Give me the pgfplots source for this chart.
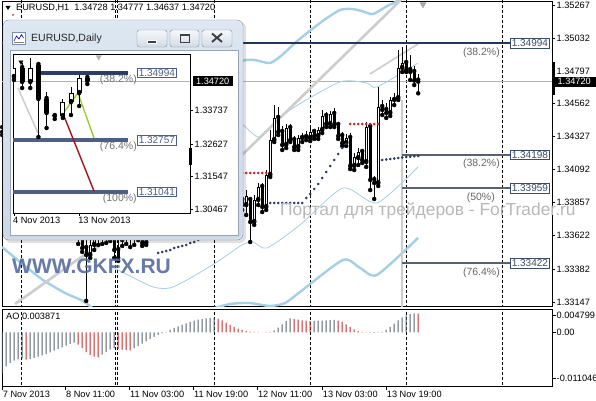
\documentclass[border=0pt]{standalone}
\usepackage{fontspec}
\setmainfont{Liberation Sans}
\usepackage{pgfplots}
\usepackage{pgfplotstable}
\pgfplotsset{compat=1.18}

\definecolor{bbblue}{HTML}{A3D0E6}
\definecolor{sarblue}{HTML}{23395F}
\definecolor{sarred}{HTML}{D02020}
\definecolor{fibnavy}{HTML}{22375E}
\definecolor{fibgray}{HTML}{56626F}
\definecolor{fibtext}{HTML}{3A4C6A}
\definecolor{pcttext}{HTML}{666666}
\definecolor{aogray}{HTML}{56606C}
\definecolor{aored}{HTML}{C42828}
\definecolor{trendgray}{HTML}{CDCDCD}
\definecolor{wintop}{HTML}{DDE7F2}
\definecolor{winbot}{HTML}{CBD8E6}
\definecolor{winborder}{HTML}{7C8DA3}
\definecolor{btntop}{HTML}{F6F8FB}
\definecolor{btnbot}{HTML}{D3DBE5}
\definecolor{dfib}{HTML}{4E5F86}
\definecolor{dfibtop}{HTML}{2A3D66}
\definecolor{gkfx}{HTML}{566BA0}
\definecolor{fibgreen}{HTML}{9ACD32}
\definecolor{fibred}{HTML}{A31414}

\newcommand{\fs}[1]{\fontsize{#1}{#1}\selectfont}

% H1 candles: bar index (7 Nov 19:00 = 0), open, high, low, close
\pgfplotstableread{
i o h l c
0 1.34389 1.34418 1.34339 1.34361
1 1.34361 1.34403 1.34332 1.34396
2 1.34396 1.34432 1.34368 1.34411
3 1.34411 1.34439 1.34375 1.34389
4 1.34389 1.34411 1.34353 1.34403
5 1.34403 1.34425 1.34368 1.34382
6 1.34382 1.34411 1.34361 1.34396
7 1.34396 1.34418 1.34346 1.34361
8 1.34361 1.34396 1.34339 1.34375
9 1.34375 1.34403 1.34332 1.34346
10 1.34346 1.34389 1.34318 1.34368
11 1.34368 1.34396 1.34325 1.34339
12 1.34339 1.34375 1.34303 1.34325
13 1.34325 1.34368 1.34296 1.34353
14 1.34353 1.34382 1.34311 1.34332
15 1.34332 1.34375 1.34289 1.34303
16 1.34303 1.34346 1.34275 1.34325
17 1.34325 1.34361 1.34261 1.34282
18 1.34282 1.34332 1.34246 1.34311
19 1.34311 1.34446 1.33561 1.33875
20 1.33875 1.33911 1.33504 1.33532
21 1.33532 1.33604 1.33154 1.33482
22 1.33482 1.33589 1.33461 1.33554
23 1.33554 1.33647 1.33518 1.33604
24 1.33604 1.33675 1.33554 1.33647
25 1.33647 1.33704 1.33561 1.33618
26 1.33618 1.33689 1.33568 1.33661
27 1.33661 1.33718 1.33582 1.33689
28 1.33689 1.33718 1.33461 1.33518
29 1.33518 1.33589 1.33440 1.33461
30 1.33589 1.33661 1.33547 1.33632
31 1.33632 1.33675 1.33561 1.33661
32 1.33661 1.33704 1.33539 1.33618
33 1.33618 1.33689 1.33554 1.33668
34 1.33668 1.33718 1.33589 1.33689
35 1.33675 1.33718 1.33547 1.33568
36 1.33568 1.33661 1.33554 1.33625
37 1.33625 1.33689 1.33604 1.33661
38 1.33661 1.33718 1.33632 1.33697
39 1.33697 1.33761 1.33668 1.33732
40 1.33732 1.33775 1.33675 1.33711
41 1.33711 1.33818 1.33689 1.33789
42 1.33789 1.33861 1.33761 1.33832
43 1.33832 1.33889 1.33789 1.33804
44 1.33804 1.33904 1.33775 1.33875
45 1.33875 1.33946 1.33846 1.33918
46 1.33918 1.33989 1.33889 1.33961
47 1.33961 1.34032 1.33918 1.33946
48 1.33946 1.34046 1.33925 1.34018
49 1.34018 1.34068 1.33975 1.33989
50 1.33989 1.34061 1.33946 1.34032
51 1.34032 1.34046 1.33932 1.33961
52 1.33961 1.34004 1.33904 1.33982
53 1.33982 1.34018 1.33882 1.33911
54 1.33911 1.33961 1.33839 1.33932
55 1.33932 1.33975 1.33818 1.33846
56 1.33846 1.33904 1.33789 1.33818
57 1.33818 1.33889 1.33768 1.33861
58 1.33861 1.33896 1.33775 1.33804
59 1.33804 1.33904 1.33782 1.33875
60 1.33875 1.33911 1.33804 1.33839
61 1.33839 1.33946 1.33768 1.33904
62 1.33875 1.33889 1.33575 1.33718
63 1.33718 1.33911 1.33697 1.33875
64 1.33875 1.33996 1.33839 1.33968
65 1.33968 1.33996 1.33789 1.33825
66 1.33825 1.34089 1.33804 1.34054
67 1.34054 1.34375 1.34039 1.34303
68 1.34303 1.34553 1.34289 1.34461
69 1.34461 1.34539 1.34339 1.34361
70 1.34361 1.34403 1.34232 1.34268
71 1.34268 1.34418 1.34246 1.34389
72 1.34389 1.34418 1.34289 1.34303
73 1.34303 1.34332 1.34232 1.34253
74 1.34253 1.34339 1.34232 1.34318
75 1.34318 1.34353 1.34289 1.34325
76 1.34325 1.34368 1.34303 1.34339
77 1.34318 1.34389 1.34296 1.34361
78 1.34361 1.34382 1.34311 1.34332
79 1.34332 1.34396 1.34311 1.34375
80 1.34375 1.34518 1.34353 1.34475
81 1.34475 1.34503 1.34396 1.34418
82 1.34418 1.34510 1.34396 1.34489
83 1.34489 1.34532 1.34396 1.34411
84 1.34411 1.34432 1.34311 1.34332
85 1.34332 1.34361 1.34261 1.34282
86 1.34282 1.34346 1.34261 1.34318
87 1.34318 1.34353 1.34096 1.34118
88 1.34118 1.34211 1.34089 1.34182
89 1.34175 1.34246 1.34125 1.34218
90 1.34218 1.34232 1.34139 1.34161
91 1.34146 1.34432 1.34111 1.34396
92 1.34396 1.34411 1.33946 1.34018
93 1.34018 1.34046 1.33882 1.33996
94 1.33996 1.34682 1.33975 1.34539
95 1.34539 1.34589 1.34482 1.34518
96 1.34518 1.34568 1.34461 1.34496
97 1.34496 1.34610 1.34475 1.34589
98 1.34589 1.34639 1.34553 1.34603
99 1.34603 1.34946 1.34589 1.34818
100 1.34818 1.34967 1.34789 1.34853
101 1.34853 1.34960 1.34789 1.34803
102 1.34803 1.34910 1.34732 1.34789
103 1.34789 1.34832 1.34696 1.34728
104 1.34728 1.34777 1.34637 1.34720
}\hone

% Awesome Oscillator, rising bars
\pgfplotstableread{
i v
0 -0.00837
1 -0.00700
2 -0.00631
3 -0.00583
4 -0.00556
5 -0.00535
7 -0.00549
8 -0.00528
9 -0.00501
10 -0.00473
11 -0.00446
12 -0.00412
13 -0.00377
14 -0.00343
15 -0.00309
16 -0.00274
17 -0.00240
18 -0.00213
25 -0.00460
26 -0.00405
27 -0.00357
28 -0.00329
33 -0.00329
34 -0.00281
35 -0.00233
36 -0.00185
37 -0.00137
38 -0.00096
39 -0.00055
40 -0.00021
41 0.00007
42 0.00048
43 0.00089
44 0.00123
45 0.00158
46 0.00185
47 0.00213
48 0.00240
49 0.00261
50 0.00274
51 0.00288
52 0.00295
53 0.00302
67 0.00007
68 0.00041
69 0.00096
70 0.00165
71 0.00233
72 0.00288
78 0.00237
79 0.00240
80 0.00243
81 0.00247
82 0.00250
83 0.00254
94 -0.00007
95 0.00007
96 0.00048
97 0.00110
98 0.00178
99 0.00247
100 0.00309
101 0.00350
102 0.00377
103 0.00391
}\aog

% Awesome Oscillator, falling bars
\pgfplotstableread{
i v
6 -0.00562
19 -0.00254
20 -0.00322
21 -0.00405
22 -0.00466
23 -0.00501
24 -0.00514
29 -0.00343
30 -0.00357
31 -0.00364
32 -0.00370
54 0.00281
55 0.00247
56 0.00199
57 0.00151
58 0.00110
59 0.00075
60 0.00048
61 0.00027
62 0.00014
63 0.00007
64 0.00003
65 -0.00003
66 -0.00005
73 0.00274
74 0.00261
75 0.00247
76 0.00240
77 0.00233
84 0.00240
85 0.00213
86 0.00165
87 0.00110
88 0.00062
89 0.00027
90 0.00010
91 0.00003
92 -0.00005
93 -0.00010
104 0.003871
}\aor

% parabolic SAR below price
\pgfplotstableread{
i p
39 1.33497
40 1.33504
41 1.33511
42 1.33518
43 1.33532
44 1.33539
45 1.33547
46 1.33554
47 1.33568
48 1.33575
49 1.33589
50 1.33618
51 1.33654
52 1.33689
53 1.33725
54 1.33761
55 1.33789
67 1.33854
68 1.33854
69 1.33854
70 1.33854
71 1.33854
72 1.33854
73 1.33854
74 1.33854
75 1.33854
76 1.33889
77 1.33918
78 1.33954
79 1.33989
80 1.34032
81 1.34075
82 1.34118
83 1.34161
84 1.34203
85 1.34246
86 1.34275
95 1.34161
96 1.34164
97 1.34168
98 1.34171
99 1.34175
100 1.34178
101 1.34182
102 1.34184
103 1.34187
104 1.34189
}\sarb

% parabolic SAR above price
\pgfplotstableread{
i p
56 1.34068
57 1.34068
58 1.34068
59 1.34068
60 1.34068
61 1.34068
62 1.34068
63 1.34068
64 1.34068
65 1.34068
66 1.34068
87 1.34418
88 1.34418
89 1.34418
90 1.34418
91 1.34418
92 1.34418
93 1.34418
94 1.34418
}\sarr

% daily candles in the inset window (4 Nov = 0)
\pgfplotstableread{
k o h l c
0 1.34853 1.35252 1.34753 1.35152
1 1.35152 1.35318 1.34487 1.34687
2 1.34687 1.35484 1.34487 1.35152
3 1.35252 1.35318 1.32860 1.34122
4 1.34122 1.34355 1.33159 1.33657
5 1.33557 1.33657 1.33458 1.33557
6 1.33557 1.34122 1.33491 1.34022
7 1.34022 1.34521 1.33590 1.34321
8 1.34321 1.34919 1.33889 1.34820
9 1.34820 1.34919 1.34620 1.34720
}\daily

\pgfplotsset{
  errline/.style 2 args={only marks, mark=none, error bars/.cd, y dir=plus, y explicit,
    error mark=none, error bar style={line width=#1, color=#2, solid}},
  sepline/.style={black, line width=0.7pt, dash pattern=on 3pt off 2pt},
}
\tikzset{
  fibbox/.style={draw=fibtext, fill=white, text=fibtext, font=\fs{10}, inner xsep=1.5pt,
    inner ysep=1.2pt, line width=0.6pt},
  pct/.style={text=pcttext, font=\fs{10.5}, inner sep=0pt},
}

\begin{document}
\begin{tikzpicture}[x=1pt,y=1pt]
\useasboundingbox (0,0) rectangle (596,400);
\fill[white] (0,0) rectangle (596,400);

% ---------------- main H1 panel ----------------
\begin{axis}[
  at={(2pt,94pt)}, anchor=south west,
  width=550pt, height=305pt, scale only axis,
  xmin=-0.05, xmax=137.45, ymin=1.33118, ymax=1.35296,
  axis line style={black, line width=0.8pt},
  xtick=\empty,
  ytick={1.35267,1.35032,1.34797,1.34562,1.34327,1.34092,1.33857,1.33622,1.33382,1.33147},
  yticklabels={1.35267,1.35032,1.34797,1.34562,1.34327,1.34092,1.33857,1.33622,1.33382,1.33147},
  ytick pos=right, yticklabel pos=right,
  tick align=outside, major tick length=3pt,
  tick style={black, line width=0.6pt},
  yticklabel style={font=\fs{9.2}, anchor=west, inner sep=0pt, xshift=1.5pt},
  scaled y ticks=false,
  clip mode=individual,
]
\pgfplotsinvokeforeach{4.875,28.2,28.8,52.95,77.1,101.1,125.1}{
  \addplot [sepline] coordinates {(#1,1.33) (#1,1.36)};
}
\addplot [black!30, line width=0.6pt] coordinates {(-1,1.34720) (140,1.34720)};

% Bollinger bands
\addplot [bbblue, line width=2.4pt, smooth, tension=0.4] coordinates {
(49.45,1.34660) (59.45,1.34860) (62.95,1.34875) (66.95,1.34853) (69.95,1.34910)
(73.45,1.35003) (76.2,1.35067) (80.45,1.35160) (84.45,1.35232) (87.45,1.35239)
(89.95,1.35224) (92.7,1.35203) (96.2,1.35260) (98.7,1.35296) (103.95,1.35432)};
\addplot [bbblue, line width=0.8pt, smooth, tension=0.4] coordinates {
(49.45,1.34518) (59.45,1.34425) (64.45,1.34325) (71.95,1.34518) (84.45,1.34718)
(91.2,1.34710) (93.7,1.34682) (103.95,1.34853)};
\addplot [bbblue, line width=0.8pt, smooth, tension=0.4] coordinates {
(26.95,1.33404) (29.45,1.33368) (37.7,1.33254) (41.95,1.33247) (46.2,1.33304)
(53.7,1.33432) (59.95,1.33554) (62.7,1.33575) (66.2,1.33532) (74.45,1.33697)
(85.2,1.33961) (93.7,1.33854) (103.95,1.34111)};
\addplot [bbblue, line width=2.4pt, smooth, tension=0.4] coordinates {
(-0.05,1.33539) (4.45,1.33432) (10.2,1.33304) (15.7,1.33211) (20.2,1.33154)
(24.45,1.33075) (36.95,1.32983) (49.45,1.33075) (56.95,1.33132) (61.95,1.33139)
(66.95,1.33118) (70.7,1.33139) (74.45,1.33218) (85.2,1.33447) (89.45,1.33390)
(93.7,1.33340) (103.95,1.33604)};

% trend lines
\addplot [trendgray, line width=2.6pt] coordinates {(3.2,1.33132) (18.7,1.33447) (59.45,1.34182) (100.7,1.35332)};
\addplot [trendgray, line width=1.6pt] coordinates {(91.95,1.34775) (103.95,1.34989)};

% Fibonacci levels
\addplot [trendgray, line width=2.6pt] coordinates {(99.9,1.34589) (99.9,1.3300)};
\addplot [fibnavy, line width=2pt] coordinates {(-1,1.34994) (126.95,1.34994)};
\addplot [fibgray, line width=2pt] coordinates {(99.9,1.34198) (126.95,1.34198)};
\addplot [fibgray, line width=2pt] coordinates {(99.9,1.33959) (126.95,1.33959)};
\addplot [fibgray, line width=2pt] coordinates {(99.9,1.33422) (126.95,1.33422)};
\addplot [only marks, mark=triangle*, mark size=3.5pt, black!35, mark options={rotate=180}] coordinates {(105.2,1.35272)};

% candles
\addplot [errline={1pt}{black}] table [x=i, y=l, y error expr=\thisrow{h}-\thisrow{l}] {\hone};
\addplot [errline={3pt}{black}] table [x=i, y expr={min(\thisrow{o},\thisrow{c})},
  y error expr={max(abs(\thisrow{c}-\thisrow{o}),0.00007)}] {\hone};
\addplot [errline={1pt}{white}] table [x=i, y expr={\thisrow{o}+0.00007},
  y error expr={max(\thisrow{c}-\thisrow{o}-0.00014,0)}] {\hone};

% parabolic SAR
\addplot [only marks, mark=*, mark size=1.1pt, sarblue] table [x=i, y=p] {\sarb};
\addplot [only marks, mark=*, mark size=1.1pt, sarred] table [x=i, y=p] {\sarr};

% level labels
\node [fibbox, anchor=west] at (axis cs:126.95,1.34994) {1.34994};
\node [fibbox, anchor=west] at (axis cs:126.95,1.34198) {1.34198};
\node [fibbox, anchor=west] at (axis cs:126.95,1.33959) {1.33959};
\node [fibbox, anchor=west] at (axis cs:126.95,1.33422) {1.33422};
\node [pct, anchor=north east, yshift=-4pt] at (axis cs:124.45,1.34994) {(38.2\%)};
\node [pct, anchor=north east, yshift=-4pt] at (axis cs:124.45,1.34198) {(38.2\%)};
\node [pct, anchor=north east, yshift=-4pt] at (axis cs:123.2,1.33959) {(50\%)};
\node [pct, anchor=north east, yshift=-4pt] at (axis cs:124.45,1.33422) {(76.4\%)};

\fill [black] (axis cs:137.45,1.34860) rectangle ([xshift=2.5pt]axis cs:137.45,1.34625);
\node [fill=black, text=white, font=\fs{9.2}, anchor=west, inner sep=0pt, minimum width=44pt,
  minimum height=10pt] at (axis cs:137.45,1.34720) {1.34720};
\end{axis}

% ---------------- AO panel ----------------
\begin{axis}[
  at={(2pt,14pt)}, anchor=south west,
  width=550pt, height=77pt, scale only axis,
  xmin=-0.05, xmax=137.45, ymin=-0.011046, ymax=0.004799,
  axis line style={black, line width=0.8pt},
  xtick={0,15.8,31.8,47.8,63.8,80,96},
  xticklabels={7 Nov 2013,8 Nov 11:00,11 Nov 03:00,11 Nov 19:00,12 Nov 11:00,13 Nov 03:00,13 Nov 19:00},
  xtick pos=bottom,
  xticklabel style={font=\fs{9.2}, anchor=north west, inner sep=0pt, xshift=0.5pt, yshift=-1pt},
  ytick={0.003564,0,-0.009503},
  yticklabels={0.004799,0.00,-0.011046},
  ytick pos=right, yticklabel pos=right,
  tick align=outside, major tick length=4pt,
  tick style={black, line width=0.6pt},
  yticklabel style={font=\fs{9.2}, anchor=west, inner sep=0pt, xshift=0.5pt},
  scaled y ticks=false,
  clip mode=individual,
]
\pgfplotsinvokeforeach{4.875,28.2,28.8,52.95,77.1,101.1,125.1}{
  \addplot [sepline] coordinates {(#1,-0.02) (#1,0.01)};
}
\addplot [ybar, bar width=1pt, fill=aogray, draw=none] table [x=i, y=v] {\aog};
\addplot [ybar, bar width=1pt, fill=aored, draw=none] table [x=i, y=v] {\aor};
\node [anchor=west, font=\fs{9.2}, inner sep=0pt] at (rel axis cs:0,1) [xshift=4pt, yshift=-7pt] {AO 0.003871};
\end{axis}

% header of the H1 chart
\fill [black] (5.5,394) -- (10.5,394) -- (8,390) -- cycle;
\fill [sarred] (13,385) circle (1pt);
\node [anchor=west, font=\fs{9.2}, inner sep=0pt] at (16,392) {EURUSD,H1\ \ 1.34728 1.34777 1.34637 1.34720};

% ---------------- inset window ----------------
\fill [black, opacity=0.12, rounded corners=6pt] (5,157) rectangle (246,378);
\draw [winborder, rounded corners=6pt, top color=wintop, bottom color=winbot] (3,160) rectangle (243,380);
\draw [white, opacity=0.7, rounded corners=5pt] (4,161) rectangle (242,379);
\fill [white] (10,165) rectangle (238,350);
\draw [winborder!80, line width=0.5pt] (10,165) rectangle (238,350);
% title bar
\draw [fill=white, draw=winborder] (12.5,356) rectangle (25,368);
\draw [blue!60!black, line width=0.6pt] (14,359) -- (16.5,364) -- (19,361) -- (21.5,365.5) -- (23.5,362);
\draw [black!50, line width=0.5pt] (14,357.5) -- (23.5,357.5);
\node [anchor=west, font=\fs{10.5}, text=black!85, inner sep=0pt] at (31,361) {EURUSD,Daily};
\foreach \a/\b in {137/167,170/199,202/232}{
  \draw [winborder, rounded corners=2.5pt, top color=btntop, bottom color=btnbot] (\a,353) rectangle (\b,370);
}
\draw [fill=black!75, draw=white, line width=0.5pt] (147.5,356.5) rectangle (156.5,360);
\draw [black!75, line width=0.9pt] (180,358) rectangle (189.5,366);
\draw [black!75, line width=1.8pt] (180,365.3) -- (189.5,365.3);
\draw [black!75, line width=1.9pt] (212,358) -- (222,366.5) (212,366.5) -- (222,358);

\begin{axis}[
  at={(13pt,187pt)}, anchor=south west,
  width=177pt, height=159pt, scale only axis,
  xmin=-0.12, xmax=21.6, ymin=1.30335, ymax=1.35617,
  axis line style={black, line width=0.8pt},
  xtick={0,8}, xticklabels={4 Nov 2013,13 Nov 2013},
  xtick pos=bottom,
  xticklabel style={font=\fs{9.2}, anchor=north west, inner sep=0pt, xshift=-1pt, yshift=-1pt},
  ytick={1.33737,1.32627,1.31547,1.30467},
  yticklabels={1.33737,1.32627,1.31547,1.30467},
  ytick pos=right, yticklabel pos=right,
  tick align=outside, major tick length=3pt,
  tick style={black, line width=0.6pt},
  yticklabel style={font=\fs{9.2}, anchor=west, inner sep=0pt, xshift=1.5pt},
  scaled y ticks=false,
  clip mode=individual,
]
\addplot [black!30, line width=0.6pt] coordinates {(-1,1.34720) (25,1.34720)};
\addplot [trendgray, line width=1.5pt] coordinates {(0.49,1.34487) (2.94,1.32992)};
\addplot [dfibtop, line width=4pt] coordinates {(2.7,1.34994) (13.99,1.34994)};
\addplot [dfib, line width=4pt] coordinates {(-1,1.32757) (13.99,1.32757)};
\addplot [dfib, line width=4pt] coordinates {(-1,1.31041) (13.99,1.31041)};
\addplot [fibred, line width=1.4pt] coordinates {(5.89,1.33723) (9.82,1.31065)};
\addplot [fibgreen, line width=1.4pt] coordinates {(5.89,1.33590) (7.85,1.34321) (9.82,1.32826)};
\addplot [errline={1pt}{black}] table [x=k, y=l, y error expr=\thisrow{h}-\thisrow{l}] {\daily};
\addplot [errline={5pt}{black}] table [x=k, y expr={min(\thisrow{o},\thisrow{c})},
  y error expr={max(abs(\thisrow{c}-\thisrow{o}),0.00033)}] {\daily};
\addplot [errline={3pt}{white}] table [x=k, y expr={\thisrow{o}+0.00033},
  y error expr={max(\thisrow{c}-\thisrow{o}-0.00066,0)}] {\daily};
\addplot [only marks, mark=triangle*, mark size=2.5pt, black, mark options={rotate=180}] coordinates {(0.86,1.35351)};
\addplot [only marks, mark=triangle*, mark size=3pt, black!30, mark options={rotate=180}] coordinates {(10.4,1.35517)};
\node [fibbox, font=\fs{10}, draw=dfib, text=dfib, anchor=west] at (axis cs:15.09,1.34994) {1.34994};
\node [fibbox, font=\fs{10}, draw=dfib, text=dfib, anchor=west] at (axis cs:15.09,1.32757) {1.32757};
\node [fibbox, font=\fs{10}, draw=dfib, text=dfib, anchor=west] at (axis cs:15.09,1.31041) {1.31041};
\node [pct, text=black!55, anchor=north east, yshift=-2pt] at (axis cs:15.09,1.34994) {(38.2\%)};
\node [pct, text=black!55, anchor=north east, yshift=-2pt] at (axis cs:15.09,1.32757) {(76.4\%)};
\node [pct, text=black!55, anchor=north east, yshift=-2pt] at (axis cs:15.09,1.31041) {(100\%)};
\fill [black] ([xshift=-1pt]axis cs:21.6,1.32494) rectangle ([xshift=2pt]axis cs:21.6,1.31929);
\node [fill=black, text=white, font=\fs{9.2}, anchor=west, inner sep=0pt, minimum width=40pt,
  minimum height=9.5pt, xshift=2.5pt] at (axis cs:21.6,1.34720) {1.34720};
\end{axis}

% watermarks
\node [anchor=west, font=\bfseries\fs{21}, text=gkfx, opacity=0.9, inner sep=0pt] at (12,134) {WWW.GKFX.RU};
\node [anchor=west, font=\fs{17.4}, text=black!28, inner sep=0pt] at (280,189) {Портал для трейдеров - ForTrader.ru};
\end{tikzpicture}
\end{document}
